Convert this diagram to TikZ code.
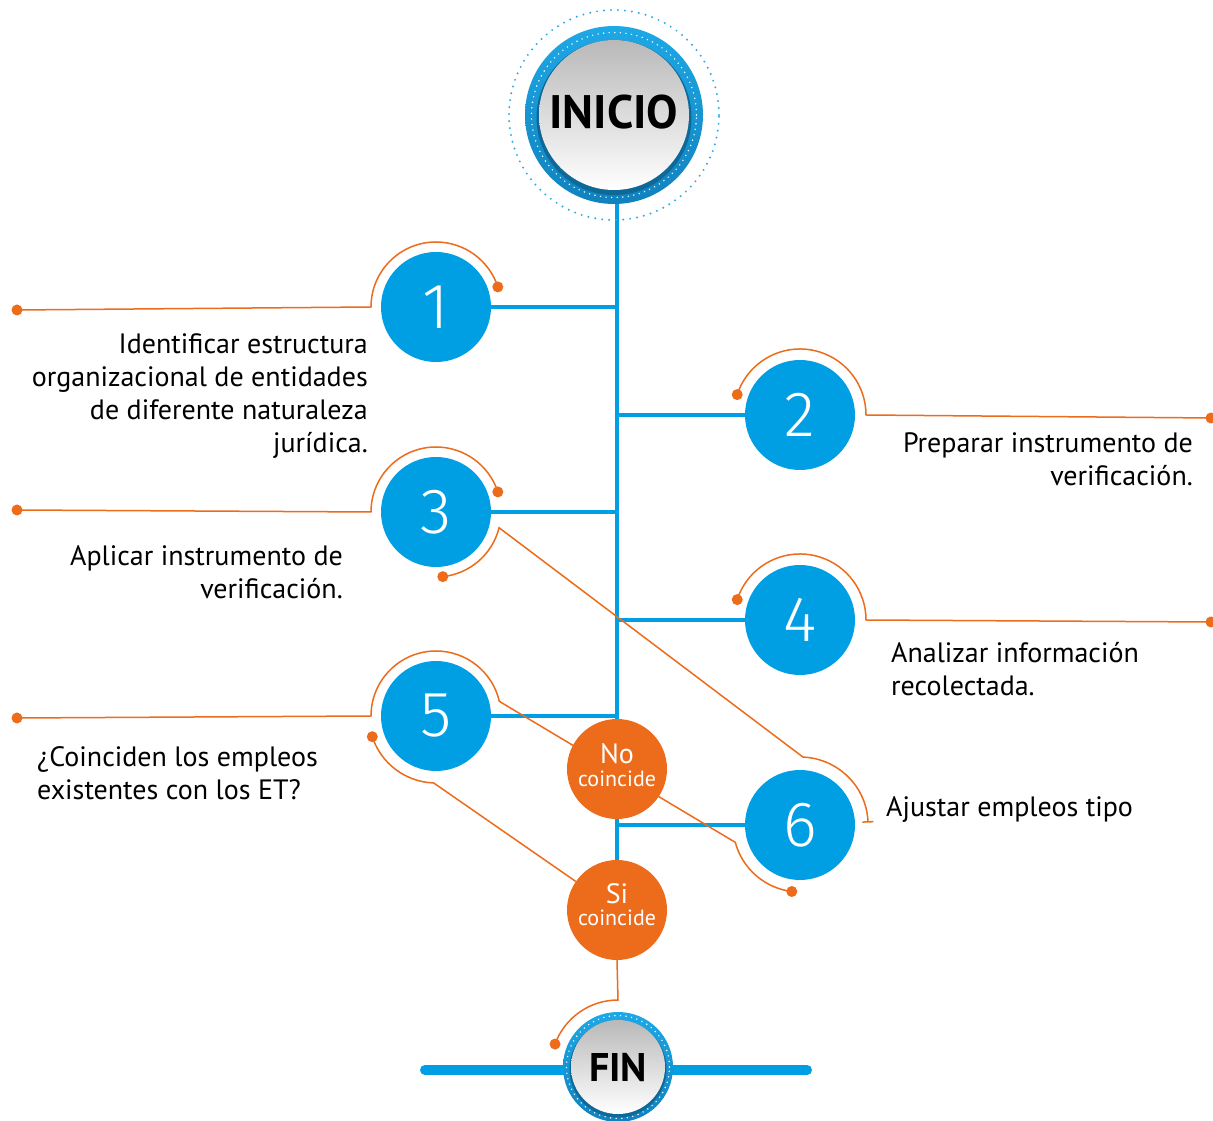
\documentclass[tikz,border=0pt]{standalone}
\usepackage{fontspec}
\setmainfont{PT Sans}
\newfontfamily\thinfont{Fira Sans Light}
\usetikzlibrary{backgrounds,calc,arrows.meta}
\definecolor{cblue}{RGB}{0,159,227}
\definecolor{ringtop}{RGB}{30,168,230}
\definecolor{ringbot}{RGB}{16,130,190}
\definecolor{ringdark}{RGB}{14,104,152}
\definecolor{dotblue}{RGB}{45,172,230}
\definecolor{corange}{RGB}{236,108,27}
\tikzset{
  stepc/.style={circle, fill=cblue, minimum size=110pt, inner sep=0pt, text=white,
    font=\thinfont\fontsize{64}{64}\selectfont},
  decc/.style={circle, fill=corange, minimum size=100pt, inner sep=0pt, text=white,
    align=center, font=\fontsize{22}{23}\selectfont},
  desc/.style={inner sep=0pt, text=black, font=\fontsize{28}{33}\selectfont},
  bline/.style={draw=cblue, line width=3.5pt},
  oline/.style={draw=corange, line width=1.5pt},
  whitedots/.style={draw=white, line width=1.6pt, dash pattern=on 0pt off 5.6pt, line cap=round},
  bluedots/.style={draw=dotblue, line width=2.2pt, dash pattern=on 0pt off 7pt, line cap=round},
  innerc/.style={circle, inner sep=0pt, top color=gray!55, middle color=white, bottom color=white},
}
\begin{document}
\begin{tikzpicture}[x=1pt,y=1pt]
\useasboundingbox (0,0) rectangle (1213,1120);
\begin{pgfonlayer}{background}
  \fill[white] (0,0) rectangle (1213,1120);
\end{pgfonlayer}

% INICIO
\coordinate (ic) at (614,1005);
\shade[top color=ringtop, bottom color=ringbot] (ic) circle (89);
\fill[ringdark] ($(ic)+(0,-2.5)$) circle (77.5);
\draw[whitedots] (ic) circle (82.5);
\draw[bluedots] (ic) circle (105);
\node[innerc, minimum size=150pt, font=\bfseries\fontsize{47}{47}\selectfont] (inicio) at (ic) {INICIO\rule[-7pt]{0pt}{7pt}};

% steps
\node[stepc] (c1) at (436,813) {1};
\node[stepc] (c2) at (800,705) {2};
\node[stepc] (c3) at (436,608) {3};
\node[stepc] (c4) at (800,500) {4};
\node[stepc] (c5) at (436,404) {5};
\node[stepc] (c6) at (800,295) {6};

% decisions
\node[decc] (no) at (617,351) {{\fontsize{28}{23}\selectfont No}\\coincide\rule[-8.6pt]{0pt}{8.6pt}};
\node[decc, font=\fontsize{22}{22}\selectfont] (si) at (617,210) {{\fontsize{28}{22}\selectfont Si}\\coincide\rule[-11pt]{0pt}{11pt}};

% FIN
\coordinate (fc) at (618,53);
\coordinate (barL) at (425,50);
\coordinate (barR) at (807,50);
\draw[cblue, line width=10pt, line cap=round] (barL) -- (barR);
\shade[top color=ringtop, bottom color=ringbot] (fc) circle (55);
\fill[ringdark] ($(fc)+(0,-2)$) circle (48.5);
\draw[whitedots] (fc) circle (51.5);
\node[innerc, minimum size=94pt, font=\bfseries\fontsize{40}{40}\selectfont] (fin) at (fc) {FIN};

% texts
\node[desc, anchor=north east, align=right] (t1) at (368,790)
  {\rule{0pt}{23pt}Identificar estructura\\organizacional de entidades\\de diferente naturaleza\\jurídica.};
\node[desc, anchor=north east, align=right] (t2) at (1193,691)
  {\rule{0pt}{23pt}Preparar instrumento de\\verificación.};
\node[desc, anchor=north east, align=right] (t3) at (343,578)
  {\rule{0pt}{23pt}Aplicar instrumento de\\verificación.};
\node[desc, anchor=north west, align=left] (t4) at (891,481)
  {\rule{0pt}{23pt}Analizar información\\recolectada.};
\node[desc, anchor=north west, align=left] (t5) at (37,377)
  {\rule{0pt}{23pt}¿Coinciden los empleos\\existentes con los ET?};
\node[desc, anchor=base west] (t6) at (886,303) {Ajustar empleos tipo};

% free ends
\coordinate (l1) at (17,810);
\coordinate (l3) at (17,610);
\coordinate (l5) at (17,402);
\coordinate (r2) at (1211,702);
\coordinate (r4) at (1211,498);
\coordinate (sp) at (617,0);

\begin{pgfonlayer}{background}
  \draw[bline] (sp |- inicio) -- (sp |- si);
  \foreach \c in {c1,c2,c3,c4,c5,c6} \draw[bline] (\c) -- (\c -| sp);
  % orange connectors
  \draw[oline] (l1) -- ($(c1)+(180:65)$) arc[start angle=180, end angle=18, radius=65] coordinate (d1);
  \draw[oline] (l3) -- ($(c3)+(180:65)$) arc[start angle=180, end angle=18, radius=65] coordinate (d3);
  \draw[oline] (l5) -- ($(c5)+(180:65)$) arc[start angle=180, end angle=13, radius=65]
     -- ($(c6)+(195:67)$) arc[start angle=195, end angle=263, radius=67] coordinate (d6);
  \draw[oline, -{Bar[width=11pt]}] ($(c3)+(276:65)$) coordinate (d3b) arc[start angle=276, end angle=346, radius=65]
     -- ($(c6)+(87.5:68)$) arc[start angle=87.5, end angle=2, radius=68];
  \draw[oline] ($(c5)+(198:67)$) coordinate (d5b) arc[start angle=198, end angle=268, radius=67] -- (si);
  \draw[oline] ($(c2)+(162:66)$) coordinate (d2) arc[start angle=162, end angle=0, radius=66] -- (r2);
  \draw[oline] ($(c4)+(162:66)$) coordinate (d4) arc[start angle=162, end angle=0, radius=66] -- (r4);
  \draw[oline] (si.south) -- ($(fc)+(90:67)$) arc[start angle=90, end angle=160, radius=67] coordinate (df);
\end{pgfonlayer}

\foreach \p in {l1,l3,l5,r2,r4,d1,d3,d6,d3b,d5b,d2,d4,df}
  \fill[corange] (\p) circle (5.5);
\end{tikzpicture}
\end{document}
